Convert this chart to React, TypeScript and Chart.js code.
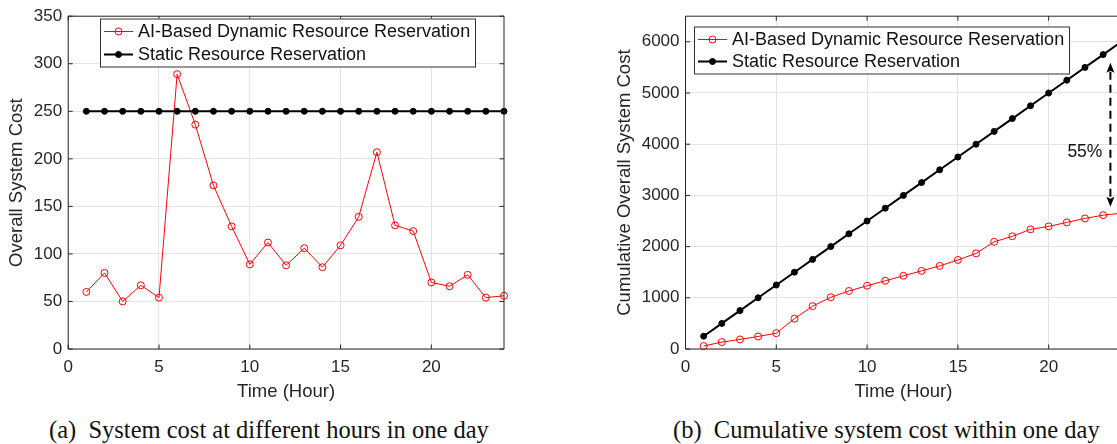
import React, { useEffect, useRef } from 'react';
import { Chart, registerables } from 'chart.js';

Chart.register(...registerables);

// ---------- data ----------
const hours = [1, 2, 3, 4, 5, 6, 7, 8, 9, 10, 11, 12, 13, 14, 15, 16, 17, 18, 19, 20, 21, 22, 23, 24];
const dynamicCost = [60, 80, 50, 67, 54, 289, 236, 172, 129, 89, 112, 88, 106, 86, 109, 139, 207, 130, 124, 70, 66, 78, 54, 56];
const staticCost = [250, 250, 250, 250, 250, 250, 250, 250, 250, 250, 250, 250, 250, 250, 250, 250, 250, 250, 250, 250, 250, 250, 250, 250];
const dynamicCumulative = [58, 135, 187, 245, 309, 592, 837, 1011, 1133, 1236, 1333, 1430, 1526, 1623, 1739, 1867, 2093, 2202, 2337, 2395, 2473, 2550, 2614, 2653];
const staticCumulative = [250, 500, 750, 1000, 1250, 1500, 1750, 2000, 2250, 2500, 2750, 3000, 3250, 3500, 3750, 4000, 4250, 4500, 4750, 5000, 5250, 5500, 5750, 6000];
const xTicks = [0, 5, 10, 15, 20];
const costTicks = [0, 50, 100, 150, 200, 250, 300, 350];
const cumulativeTicks = [0, 1000, 2000, 3000, 4000, 5000, 6000];
const seriesLabels = ['AI-Based Dynamic Resource Reservation', 'Static Resource Reservation'];
const gapLabel = '55%';
const gapHour = 23.4;
const gapTop = 5590;
const gapBottom = 2780;
const gapLabelValue = 3840;
const captionA = ['(a)', 'System cost at different hours in one day'];
const captionB = ['(b)', 'Cumulative system cost within one day'];

// ---------- style ----------
const FONT = '"Liberation Sans", Arial, Helvetica, sans-serif';
const SERIF = '"Liberation Serif", "Times New Roman", serif';
const AXIS_COLOR = '#262626';
const GRID_COLOR = '#e3e3e3';

const framePlugin = {
  id: 'frame',
  afterDatasetsDraw(chart: any) {
    const { ctx, chartArea: a, scales } = chart;
    ctx.save();
    ctx.strokeStyle = AXIS_COLOR;
    ctx.lineWidth = 1;
    ctx.beginPath();
    ctx.rect(a.left, a.top, a.right - a.left, a.bottom - a.top);
    ctx.stroke();
    const tl = 4.5;
    ctx.beginPath();
    scales.x.ticks.forEach((t: any) => {
      const px = scales.x.getPixelForValue(t.value);
      ctx.moveTo(px, a.bottom);
      ctx.lineTo(px, a.bottom - tl);
      ctx.moveTo(px, a.top);
      ctx.lineTo(px, a.top + tl);
    });
    scales.y.ticks.forEach((t: any) => {
      const py = scales.y.getPixelForValue(t.value);
      ctx.moveTo(a.left, py);
      ctx.lineTo(a.left + tl, py);
      ctx.moveTo(a.right, py);
      ctx.lineTo(a.right - tl, py);
    });
    ctx.stroke();
    ctx.restore();
  },
};

const boxLegendPlugin = {
  id: 'boxLegend',
  afterDraw(chart: any, _args: any, o: any) {
    if (!o || o.w == null) return;
    const { ctx, chartArea: a } = chart;
    const x0 = a.left + o.dx;
    const y0 = a.top + o.dy;
    ctx.save();
    ctx.fillStyle = '#ffffff';
    ctx.fillRect(x0, y0, o.w, o.h);
    ctx.strokeStyle = '#333333';
    ctx.lineWidth = 1;
    ctx.strokeRect(x0 + 0.5, y0 + 0.5, o.w, o.h);
    chart.data.datasets.forEach((ds: any, i: number) => {
      const cy = y0 + o.rows[i];
      const lx0 = x0 + 4;
      const lx1 = x0 + 33;
      ctx.strokeStyle = ds.borderColor;
      ctx.lineWidth = ds.borderWidth;
      ctx.beginPath();
      ctx.moveTo(lx0, cy);
      ctx.lineTo(lx1, cy);
      ctx.stroke();
      ctx.beginPath();
      ctx.arc((lx0 + lx1) / 2, cy, ds.pointRadius, 0, Math.PI * 2);
      ctx.fillStyle = ds.pointBackgroundColor;
      ctx.fill();
      ctx.lineWidth = ds.pointBorderWidth;
      ctx.strokeStyle = ds.pointBorderColor;
      ctx.stroke();
      ctx.fillStyle = '#111111';
      ctx.font = `18px ${FONT}`;
      ctx.textAlign = 'left';
      ctx.textBaseline = 'middle';
      ctx.fillText(ds.label, x0 + 38, cy + 1);
    });
    ctx.restore();
  },
};

const gapArrowPlugin = {
  id: 'gapArrow',
  afterDraw(chart: any, _args: any, o: any) {
    if (!o || !o.label) return;
    const { ctx, scales } = chart;
    const x = scales.x.getPixelForValue(o.hour);
    const yt = scales.y.getPixelForValue(o.top);
    const yb = scales.y.getPixelForValue(o.bottom);
    const yl = scales.y.getPixelForValue(o.labelValue);
    ctx.save();
    ctx.strokeStyle = '#000';
    ctx.fillStyle = '#000';
    ctx.lineWidth = 2;
    ctx.setLineDash([8, 5]);
    ctx.beginPath();
    ctx.moveTo(x, yt + 9);
    ctx.lineTo(x, yb - 9);
    ctx.stroke();
    ctx.setLineDash([]);
    ctx.beginPath();
    ctx.moveTo(x, yt);
    ctx.lineTo(x - 4, yt + 10);
    ctx.lineTo(x, yt + 8);
    ctx.lineTo(x + 4, yt + 10);
    ctx.closePath();
    ctx.fill();
    ctx.beginPath();
    ctx.moveTo(x, yb);
    ctx.lineTo(x - 4, yb - 10);
    ctx.lineTo(x, yb - 8);
    ctx.lineTo(x + 4, yb - 10);
    ctx.closePath();
    ctx.fill();
    ctx.font = `17.5px ${FONT}`;
    ctx.textAlign = 'right';
    ctx.textBaseline = 'middle';
    ctx.fillStyle = '#111111';
    ctx.fillText(o.label, x - 8, yl);
    ctx.restore();
  },
};

function makeDatasets(dyn: number[], stat: number[]) {
  return [
    {
      label: seriesLabels[0],
      data: hours.map((h, i) => ({ x: h, y: dyn[i] })),
      borderColor: '#ff0000',
      borderWidth: 1,
      pointRadius: 3.5,
      pointBorderWidth: 1,
      pointBorderColor: '#ff0000',
      pointBackgroundColor: 'rgba(255,255,255,0)',
      tension: 0,
      clip: false,
      order: 1,
    },
    {
      label: seriesLabels[1],
      data: hours.map((h, i) => ({ x: h, y: stat[i] })),
      borderColor: '#000000',
      borderWidth: 2,
      pointRadius: 3,
      pointBorderWidth: 1,
      pointBorderColor: '#000000',
      pointBackgroundColor: '#000000',
      tension: 0,
      clip: false,
      order: 0,
    },
  ];
}

const plainLabel = (v: any) => String(v);

function makeOptions(p: any) {
  return {
    animation: false,
    responsive: true,
    maintainAspectRatio: false,
    events: [],
    layout: { padding: { top: 12.7, right: p.padRight, left: 0, bottom: 0 } },
    plugins: {
      legend: { display: false },
      tooltip: { enabled: false },
      boxLegend: p.legend,
      gapArrow: p.arrow || {},
    },
    scales: {
      x: {
        type: 'linear',
        min: 0,
        max: 24,
        afterFit: (s: any) => {
          s.height = 61;
        },
        afterBuildTicks: (s: any) => {
          s.ticks = xTicks.map((v) => ({ value: v }));
        },
        ticks: {
          callback: plainLabel,
          font: { family: FONT, size: 17 },
          color: AXIS_COLOR,
          padding: 7.8,
          maxRotation: 0,
          autoSkip: false,
        },
        grid: { color: GRID_COLOR, drawTicks: false },
        border: { display: false },
        title: {
          display: true,
          text: 'Time (Hour)',
          font: { family: FONT, size: 18.5 },
          color: AXIS_COLOR,
          padding: { top: 0, bottom: 6.9 },
        },
      },
      y: {
        type: 'linear',
        min: 0,
        max: p.yMax,
        afterFit: (s: any) => {
          s.width = p.yWidth;
        },
        afterBuildTicks: (s: any) => {
          s.ticks = p.yTicks.map((v: number) => ({ value: v }));
        },
        ticks: {
          callback: plainLabel,
          font: { family: FONT, size: 17 },
          color: AXIS_COLOR,
          padding: 6,
          autoSkip: false,
        },
        grid: { color: GRID_COLOR, drawTicks: false },
        border: { display: false },
        title: {
          display: true,
          text: p.yTitle,
          font: { family: FONT, size: 18.5 },
          color: AXIS_COLOR,
          padding: { top: p.yTitlePad, bottom: 0 },
        },
      },
    },
  };
}

function ChartBox(props: { cfg: any; style: React.CSSProperties }) {
  const ref = useRef<HTMLCanvasElement | null>(null);
  useEffect(() => {
    if (!ref.current) return;
    const chart = new Chart(ref.current, props.cfg);
    return () => chart.destroy();
  }, []);
  return (
    <div style={{ position: 'absolute', ...props.style }}>
      <canvas ref={ref} />
    </div>
  );
}

const leftConfig = {
  type: 'line',
  data: { datasets: makeDatasets(dynamicCost, staticCost) },
  options: makeOptions({
    yMax: 350,
    yTicks: costTicks,
    yTitle: 'Overall System Cost',
    yWidth: 68.2,
    yTitlePad: 6.2,
    padRight: 16,
    legend: { dx: 31.8, dy: 2.3, w: 375, h: 48, rows: [13, 36] },
  }),
  plugins: [framePlugin, boxLegendPlugin, gapArrowPlugin],
};

const rightConfig = {
  type: 'line',
  data: { datasets: makeDatasets(dynamicCumulative, staticCumulative) },
  options: makeOptions({
    yMax: 6500,
    yTicks: cumulativeTicks,
    yTitle: 'Cumulative Overall System Cost',
    yWidth: 105.5,
    yTitlePad: 33.9,
    padRight: 18.7,
    legend: { dx: 8.5, dy: 10.3, w: 375, h: 47, rows: [13, 35] },
    arrow: { hour: gapHour, top: gapTop, bottom: gapBottom, labelValue: gapLabelValue, label: gapLabel },
  }),
  plugins: [framePlugin, boxLegendPlugin, gapArrowPlugin],
};

const captionStyle: React.CSSProperties = {
  position: 'absolute',
  top: 417.5,
  fontFamily: SERIF,
  fontSize: 24.5,
  lineHeight: 1,
  whiteSpace: 'nowrap',
  color: '#111',
};

export default function App() {
  return (
    <div
      style={{
        position: 'fixed',
        left: 0,
        top: 0,
        width: 1117,
        height: 444,
        overflow: 'hidden',
        background: '#fff',
      }}
    >
      <ChartBox cfg={leftConfig} style={{ left: 0, top: 0, width: 520, height: 410 }} />
      <ChartBox cfg={rightConfig} style={{ left: 580, top: 0, width: 560, height: 410 }} />
      <div style={{ ...captionStyle, left: 49 }}>
        {captionA[0]}
        {'\u2002'}
        {captionA[1]}
      </div>
      <div style={{ ...captionStyle, left: 673 }}>
        {captionB[0]}
        {'\u2002'}
        {captionB[1]}
      </div>
    </div>
  );
}
